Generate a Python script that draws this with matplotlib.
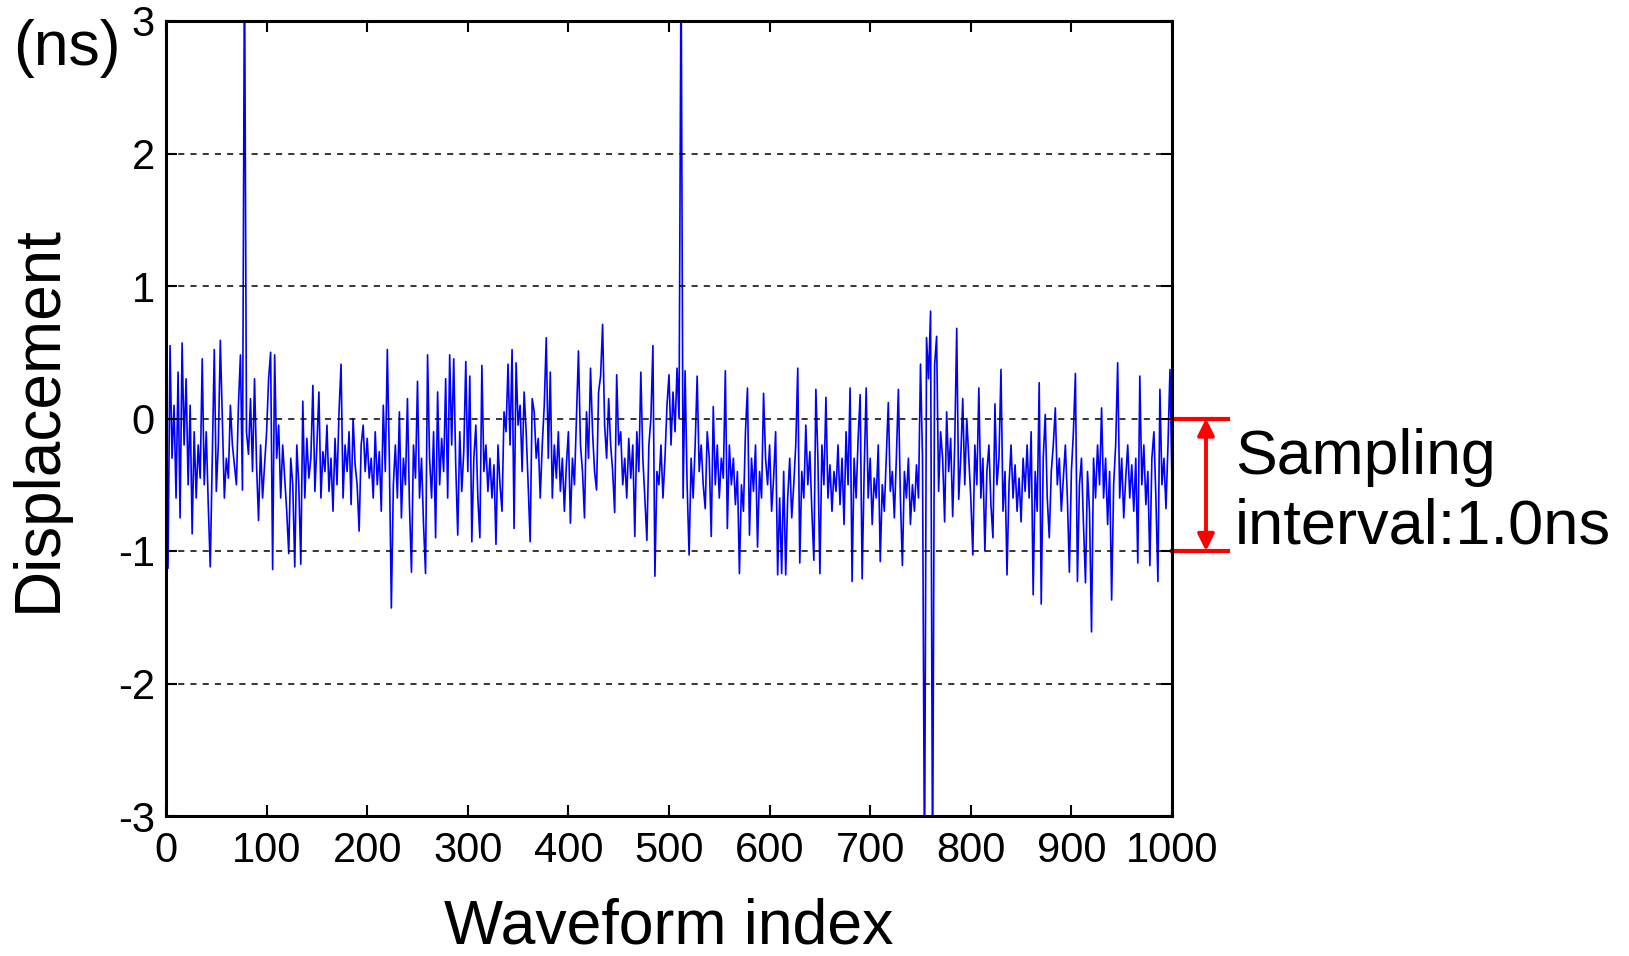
import numpy as np
import matplotlib
matplotlib.use("Agg")
import matplotlib.pyplot as plt
import matplotlib.transforms as mtransforms

plt.rcParams['font.family'] = ['Liberation Sans', 'DejaVu Sans']
plt.rcParams['axes.unicode_minus'] = False

# displacement (ns), read every 2nd waveform index off the picture
disp = [
    0.35, -1.13, 0.55, -0.3, 0.1, -0.6, 0.35, -0.75, 0.57, -0.2, 0.3, -0.5, 0.1, -0.87, -0.1, -0.6, -0.2, -0.45, 0.45, -0.5, -0.1, -0.65, -1.12, -0.3, 0.52,
    -0.55, -0.2, 0.59, 0.0, -0.6, -0.3, -0.45, 0.1, -0.2, -0.35, -0.5, 0.1, 0.48, -0.54, 3.5, -0.1, -0.27, 0.15, -0.4, 0.3, -0.35, -0.77, -0.2, -0.6, -0.35,
    -0.1, 0.3, 0.5, -1.14, 0.48, -0.3, -0.05, -0.6, -0.2, -0.45, -0.7, -1.02, -0.3, -0.5, -1.12, -0.2, -0.5, -1.1, 0.13, -0.6, -0.15, -0.45, -0.3, 0.25, -0.55,
    -0.2, 0.2, -0.6, -0.25, -0.4, -0.05, -0.55, -0.3, -0.7, -0.15, -0.5, 0.05, 0.41, -0.6, -0.2, -0.4, -0.1, -0.65, 0.0, -0.35, -0.5, -0.85, -0.2, -0.05, -0.4,
    -0.15, -0.45, -0.3, -0.6, -0.1, -0.5, -0.25, -0.7, 0.1, -0.4, 0.52, -0.3, -1.43, -0.5, -0.2, -0.6, 0.05, -0.75, -0.3, -0.5, 0.15, -0.65, -1.16, -0.2, -0.45,
    0.28, -0.6, -0.3, -0.8, -1.17, 0.48, -0.3, -0.6, -0.1, -0.9, 0.2, -0.5, -0.15, -0.4, 0.3, -0.6, 0.48, -0.2, 0.45, -0.35, -0.88, -0.1, -0.55, -0.25, 0.43,
    -0.4, 0.32, -0.93, -0.3, -0.05, -0.6, -0.9, 0.4, -0.4, -0.2, -0.55, -0.3, -0.6, -0.35, -0.95, -0.2, -0.5, -0.7, 0.05, -0.1, 0.41, -0.2, 0.52, -0.83, 0.42,
    -0.05, 0.1, -0.4, 0.2, -0.1, -0.5, -0.93, 0.15, 0.05, -0.3, -0.15, -0.6, -0.2, 0.1, 0.61, -0.3, 0.35, -0.6, -0.2, -0.45, -0.1, -0.55, -0.3, -0.7, -0.35,
    -0.1, -0.79, -0.3, -0.5, 0.0, 0.51, -0.2, -0.4, -0.75, 0.05, -0.3, 0.38, -0.1, -0.4, -0.54, 0.2, 0.32, 0.71, -0.05, -0.3, 0.15, -0.2, -0.4, -0.71, 0.33,
    -0.2, -0.1, -0.5, -0.3, -0.6, -0.15, -0.45, -0.2, -0.89, -0.1, -0.4, 0.35, -0.3, -0.6, -0.92, -0.2, 0.0, 0.55, -1.19, -0.4, -0.5, -0.2, -0.6, -0.3, 0.1,
    0.33, -0.2, 0.2, -0.1, 0.38, 0.0, 3.5, -0.6, 0.36, -0.5, -1.03, -0.3, -0.6, -0.2, 0.32, -0.4, -0.2, -0.5, -0.68, -0.1, -0.3, -0.89, 0.09, -0.5, -0.2,
    -0.6, -0.3, -0.45, 0.36, -0.83, -0.2, -0.5, -0.3, -0.65, -0.4, -1.17, -0.5, -0.7, -0.1, 0.23, -0.88, -0.3, -0.55, -0.2, -0.97, -0.4, -0.6, 0.19, -0.3, -0.5,
    -0.2, -0.7, -0.45, -0.1, -1.18, -0.6, -1.17, -0.4, -1.18, -0.6, -0.3, -0.75, -0.5, -0.2, 0.38, -1.09, -0.4, -0.6, -0.05, -0.5, -0.25, -0.7, -1.07, 0.22, -0.3,
    -1.17, -0.2, -0.5, 0.16, -0.6, -0.35, -0.7, -0.4, -0.55, -0.2, -0.65, -0.3, -0.8, -0.1, -0.5, 0.23, -1.23, -0.3, -0.6, -0.15, 0.18, -1.21, -0.4, 0.23, -0.6,
    -0.3, -0.8, -0.45, -0.6, -0.2, -1.08, -0.5, -0.7, -0.3, 0.12, -0.55, -0.4, -0.75, -0.3, 0.22, -0.6, -1.11, -0.4, -0.6, -0.3, -0.8, -0.5, -0.7, -0.35, -0.6,
    0.41, -0.3, -3.5, 0.61, 0.3, 0.81, -3.5, 0.4, 0.62, -0.55, -0.1, -0.3, -0.78, 0.05, -0.4, -0.15, -0.74, -0.2, 0.68, -0.61, -0.3, 0.15, -0.5, 0.0, -0.3,
    -0.6, -1.03, -0.2, -0.5, 0.23, -0.6, -0.3, -1.0, -0.4, -0.2, -0.65, -0.9, 0.11, -0.5, -0.3, 0.37, -0.7, -0.4, -1.18, -0.5, -0.2, -0.6, -0.35, -0.7, -0.45,
    -0.78, -0.3, -0.55, -0.2, -0.6, -0.1, -1.33, -0.4, -0.7, 0.27, -1.4, -0.3, 0.03, -0.6, -0.9, -0.4, -0.2, 0.08, -0.5, -0.3, -0.7, -0.45, -0.2, -0.6, -1.16,
    -0.4, -0.1, 0.34, -1.23, -0.5, -0.3, -0.8, -1.24, -0.4, -0.7, -1.61, -0.3, -0.6, -0.2, -0.5, 0.08, -0.6, -0.3, -0.8, -0.4, -1.37, -0.5, -0.2, 0.42, -0.6,
    -0.3, -0.75, -0.45, -0.2, -0.6, -0.35, -0.7, -0.3, -1.09, 0.32, -0.5, -0.2, -0.65, -0.4, -1.11, -0.3, -0.1, -0.6, -1.23, 0.22, -0.5, -0.3, -0.68, -0.2, 0.37,
    -0.5,
]
index = np.arange(len(disp)) * 2

x_ticks = [0, 100, 200, 300, 400, 500, 600, 700, 800, 900, 1000]
y_ticks = [-3, -2, -1, 0, 1, 2, 3]

fig = plt.figure(figsize=(16.29, 9.56), dpi=100)
ax = fig.add_axes([166 / 1629, 1 - 816 / 956, 1006 / 1629, 795 / 956])

ax.plot(index, disp, color='#0000ff', lw=1.2)

ax.set_xlim(0, 1000)
ax.set_ylim(-3, 3)
ax.set_xticks(x_ticks)
ax.set_yticks(y_ticks)
ax.tick_params(direction='in', top=True, right=True, length=8, width=1.5,
               labelsize=30)
ax.tick_params(axis='x', pad=11)
ax.tick_params(axis='y', pad=8)
for s in ax.spines.values():
    s.set_linewidth(2.2)

# dashed horizontal grid
ax.grid(axis='y', color='black', linestyle=(0, (4, 4)), lw=1.1)
ax.set_axisbelow(False)

ax.set_xlabel('Waveform index', fontsize=45)
ax.xaxis.set_label_coords(0.5, -0.103)
ax.set_ylabel('Displacement', fontsize=46)
ax.yaxis.set_label_coords(-0.097, 0.5)
fig.text(0.008, 1 - 49 / 956, '(ns)', fontsize=45, va='center', ha='left')

# sampling interval marker to the right of the axes
trans = mtransforms.blended_transform_factory(ax.transAxes, ax.transData)
for yv in [0, -1]:
    ax.plot([1.0, 1.0557], [yv, yv], color='red', lw=3, transform=trans,
            clip_on=False)
ax.annotate('', xy=(1.0338, -1), xytext=(1.0338, 0), xycoords=trans,
            textcoords=trans,
            arrowprops=dict(arrowstyle='<|-|>', color='red', lw=2.8,
                            mutation_scale=25, shrinkA=0, shrinkB=0))
fig.text(1235 / 1629, 1 - 474 / 956, 'Sampling', fontsize=45, va='baseline')
fig.text(1235 / 1629, 1 - 543 / 956, 'interval:1.0ns', fontsize=45.5, va='baseline')

fig.savefig('out.png', dpi=100)
